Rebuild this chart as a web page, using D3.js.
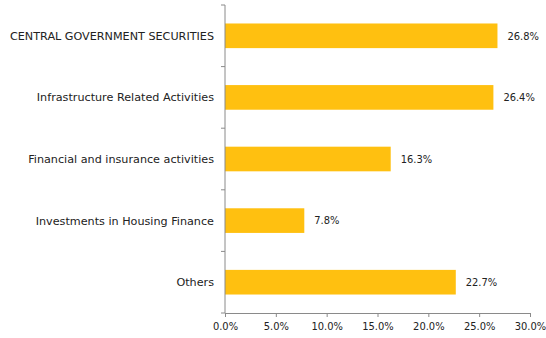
<!DOCTYPE html>
<html>
<head>
<meta charset="utf-8">
<script src="https://cdn.jsdelivr.net/npm/d3@7"></script>
<style>
  body { margin: 0; background: #fff; }
  svg text { font-family: "DejaVu Sans", Verdana, sans-serif; fill: #222; }
  svg text.num { font-family: "DejaVu Sans Condensed", "DejaVu Sans", sans-serif; }
</style>
</head>
<body>
<svg id="chart" width="546" height="338"></svg>
<script>
// Portfolio allocation by sector (% of net assets)
const categories = [
  "CENTRAL GOVERNMENT SECURITIES",
  "Infrastructure Related Activities",
  "Financial and insurance activities",
  "Investments in Housing Finance",
  "Others"
];
const values = [26.8, 26.4, 16.3, 7.8, 22.7];
const xTicks = [0, 5, 10, 15, 20, 25, 30];

const svg = d3.select("#chart");
const margin = { left: 225, right: 16, top: 5, bottom: 25 };
const W = 546, H = 338;

const x = d3.scaleLinear().domain([0, 30]).range([margin.left, W - margin.right]);
const y = d3.scaleBand().domain(categories)
  .range([margin.top, H - margin.bottom]).paddingInner(0.6).paddingOuter(0.3);

const axisColor = "#8a8a8a";

// bars
svg.append("g").selectAll("rect").data(values).join("rect")
  .attr("x", x(0))
  .attr("y", (d, i) => y(categories[i]))
  .attr("width", d => x(d) - x(0))
  .attr("height", y.bandwidth())
  .attr("fill", "#FFC010");

// value labels
svg.append("g").selectAll("text").data(values).join("text")
  .attr("class", "num")
  .attr("x", d => x(d) + 10)
  .attr("y", (d, i) => y(categories[i]) + y.bandwidth() / 2)
  .attr("dy", "0.35em")
  .attr("font-size", 11)
  .text(d => d.toFixed(1) + "%");

// category axis with ticks between bands
const yAxisG = svg.append("g");
yAxisG.append("line")
  .attr("x1", x(0)).attr("x2", x(0))
  .attr("y1", margin.top).attr("y2", H - margin.bottom)
  .attr("stroke", axisColor);
const bandEdges = d3.range(categories.length + 1).map(i => margin.top + i * (H - margin.bottom - margin.top) / categories.length);
yAxisG.selectAll("line.tick").data(bandEdges).join("line")
  .attr("class", "tick")
  .attr("x1", x(0) - 4).attr("x2", x(0))
  .attr("y1", d => d).attr("y2", d => d)
  .attr("stroke", axisColor);
yAxisG.selectAll("text").data(categories).join("text")
  .attr("x", x(0) - 11)
  .attr("y", d => y(d) + y.bandwidth() / 2)
  .attr("dy", "0.35em")
  .attr("text-anchor", "end")
  .attr("font-size", 11.2)
  .text(d => d);

// value axis
const xAxis = d3.axisBottom(x).tickValues(xTicks)
  .tickFormat(d => d.toFixed(1) + "%").tickSize(4).tickSizeOuter(0);
const xg = svg.append("g")
  .attr("transform", `translate(0,${H - margin.bottom})`)
  .call(xAxis);
xg.select(".domain").attr("stroke", axisColor);
xg.selectAll(".tick line").attr("stroke", axisColor);
xg.selectAll(".tick text")
  .attr("class", "num")
  .attr("font-size", 11)
  .attr("font-family", null)
  .attr("fill", "#222")
  .attr("dy", "0.95em");
</script>
</body>
</html>
